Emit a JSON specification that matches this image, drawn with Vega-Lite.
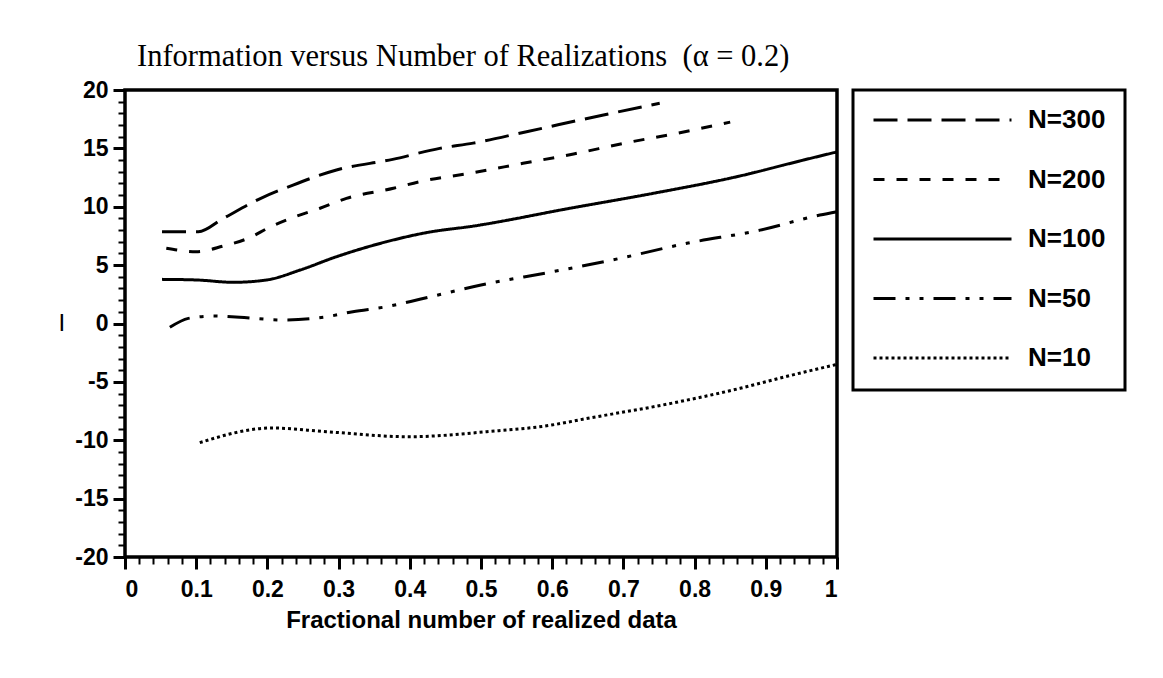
{
  "$schema": "https://vega.github.io/schema/vega-lite/v6.json",
  "autosize": {"type": "none"},
  "width": 712,
  "height": 467,
  "padding": {"left": 125, "top": 90, "right": 326, "bottom": 121},
  "background": "white",
  "title": {
    "text": "Information versus Number of Realizations \u00a0(α = 0.2)",
    "anchor": "start",
    "frame": "group",
    "dx": 12,
    "offset": -17,
    "baseline": "alphabetic",
    "font": "Liberation Serif",
    "fontSize": 30.5,
    "fontWeight": "normal",
    "color": "black"
  },
  "data": {
    "values": [
      {"N": "N=300", "x": 0.052, "y": 7.86},
      {"N": "N=300", "x": 0.103, "y": 7.86},
      {"N": "N=300", "x": 0.138, "y": 9.0},
      {"N": "N=300", "x": 0.19, "y": 10.7},
      {"N": "N=300", "x": 0.236, "y": 11.86},
      {"N": "N=300", "x": 0.297, "y": 13.15},
      {"N": "N=300", "x": 0.376, "y": 14.06},
      {"N": "N=300", "x": 0.442, "y": 15.0},
      {"N": "N=300", "x": 0.489, "y": 15.45},
      {"N": "N=300", "x": 0.564, "y": 16.43},
      {"N": "N=300", "x": 0.672, "y": 17.86},
      {"N": "N=300", "x": 0.751, "y": 18.86},
      {"N": "N=200", "x": 0.058, "y": 6.44},
      {"N": "N=200", "x": 0.1, "y": 6.15},
      {"N": "N=200", "x": 0.138, "y": 6.64},
      {"N": "N=200", "x": 0.173, "y": 7.3},
      {"N": "N=200", "x": 0.205, "y": 8.3},
      {"N": "N=200", "x": 0.239, "y": 9.15},
      {"N": "N=200", "x": 0.274, "y": 9.87},
      {"N": "N=200", "x": 0.311, "y": 10.72},
      {"N": "N=200", "x": 0.377, "y": 11.58},
      {"N": "N=200", "x": 0.414, "y": 12.15},
      {"N": "N=200", "x": 0.487, "y": 12.9},
      {"N": "N=200", "x": 0.559, "y": 13.72},
      {"N": "N=200", "x": 0.63, "y": 14.52},
      {"N": "N=200", "x": 0.7, "y": 15.43},
      {"N": "N=200", "x": 0.775, "y": 16.29},
      {"N": "N=200", "x": 0.85, "y": 17.25},
      {"N": "N=100", "x": 0.052, "y": 3.78},
      {"N": "N=100", "x": 0.1, "y": 3.73},
      {"N": "N=100", "x": 0.152, "y": 3.53},
      {"N": "N=100", "x": 0.199, "y": 3.73},
      {"N": "N=100", "x": 0.246, "y": 4.58},
      {"N": "N=100", "x": 0.297, "y": 5.72},
      {"N": "N=100", "x": 0.367, "y": 7.0},
      {"N": "N=100", "x": 0.423, "y": 7.78},
      {"N": "N=100", "x": 0.49, "y": 8.35},
      {"N": "N=100", "x": 0.625, "y": 9.87},
      {"N": "N=100", "x": 0.742, "y": 11.15},
      {"N": "N=100", "x": 0.859, "y": 12.57},
      {"N": "N=100", "x": 0.953, "y": 14.0},
      {"N": "N=100", "x": 1.0, "y": 14.7},
      {"N": "N=50", "x": 0.063, "y": -0.33},
      {"N": "N=50", "x": 0.089, "y": 0.44},
      {"N": "N=50", "x": 0.124, "y": 0.64},
      {"N": "N=50", "x": 0.161, "y": 0.53},
      {"N": "N=50", "x": 0.222, "y": 0.3},
      {"N": "N=50", "x": 0.283, "y": 0.58},
      {"N": "N=50", "x": 0.32, "y": 1.01},
      {"N": "N=50", "x": 0.367, "y": 1.44},
      {"N": "N=50", "x": 0.414, "y": 2.07},
      {"N": "N=50", "x": 0.5, "y": 3.3},
      {"N": "N=50", "x": 0.601, "y": 4.44},
      {"N": "N=50", "x": 0.695, "y": 5.58},
      {"N": "N=50", "x": 0.789, "y": 6.87},
      {"N": "N=50", "x": 0.892, "y": 8.0},
      {"N": "N=50", "x": 0.976, "y": 9.29},
      {"N": "N=50", "x": 1.0, "y": 9.58},
      {"N": "N=10", "x": 0.105, "y": -10.2},
      {"N": "N=10", "x": 0.206, "y": -8.95},
      {"N": "N=10", "x": 0.283, "y": -9.27},
      {"N": "N=10", "x": 0.399, "y": -9.7},
      {"N": "N=10", "x": 0.508, "y": -9.27},
      {"N": "N=10", "x": 0.599, "y": -8.7},
      {"N": "N=10", "x": 0.643, "y": -8.2},
      {"N": "N=10", "x": 0.767, "y": -6.84},
      {"N": "N=10", "x": 0.864, "y": -5.55},
      {"N": "N=10", "x": 0.928, "y": -4.55},
      {"N": "N=10", "x": 1.0, "y": -3.5}
    ]
  },
  "mark": {"type": "line", "color": "black", "strokeWidth": 3, "interpolate": "monotone"},
  "encoding": {
    "x": {
      "field": "x",
      "type": "quantitative",
      "scale": {"domain": [0, 1], "nice": false, "zero": false},
      "axis": {
        "title": "Fractional number of realized data",
        "values": [0,0.02,0.04,0.06,0.08,0.1,0.12,0.14,0.16,0.18,0.2,0.22,0.24,0.26,0.28,0.3,0.32,0.34,0.36,0.38,0.4,0.42,0.44,0.46,0.48,0.5,0.52,0.54,0.56,0.58,0.6,0.62,0.64,0.66,0.68,0.7,0.72,0.74,0.76,0.78,0.8,0.82,0.84,0.86,0.88,0.9,0.92,0.94,0.96,0.98,1],
        "labelExpr": "abs(datum.value*10 - round(datum.value*10)) < 0.001 ? format(datum.value, '~g') : ''",
        "tickSize": {"condition": {"test": "abs(datum.value*10 - round(datum.value*10)) < 0.001", "value": 12}, "value": 7},
        "tickWidth": {"condition": {"test": "abs(datum.value*10 - round(datum.value*10)) < 0.001", "value": 3}, "value": 2}
      }
    },
    "y": {
      "field": "y",
      "type": "quantitative",
      "scale": {"domain": [-20, 20], "nice": false, "zero": false},
      "axis": {
        "title": "I",
        "titleAngle": 0,
        "titleBaseline": "middle",
        "titleAlign": "right",
        "titlePadding": 10,
        "titleFontWeight": "normal",
        "values": [-20,-19,-18,-17,-16,-15,-14,-13,-12,-11,-10,-9,-8,-7,-6,-5,-4,-3,-2,-1,0,1,2,3,4,5,6,7,8,9,10,11,12,13,14,15,16,17,18,19,20],
        "labelExpr": "datum.value % 5 == 0 ? '' + datum.value : ''",
        "tickSize": {"condition": {"test": "datum.value % 5 == 0", "value": 12}, "value": 7},
        "tickWidth": {"condition": {"test": "datum.value % 5 == 0", "value": 3}, "value": 2}
      }
    },
    "strokeDash": {
      "field": "N",
      "type": "nominal",
      "scale": {
        "domain": ["N=300", "N=200", "N=100", "N=50", "N=10"],
        "range": [[24, 10], [11, 12], [1, 0], [22, 10, 4, 10, 4, 10], [3, 3]]
      },
      "legend": {
        "title": null,
        "orient": "right",
        "offset": 10,
        "symbolType": "stroke",
        "symbolSize": 19044,
        "symbolStrokeWidth": 3,
        "symbolStrokeColor": "black",
        "labelFont": "Liberation Sans",
        "labelFontSize": 26,
        "labelFontWeight": "bold",
        "labelColor": "black",
        "labelOffset": 15,
        "padding": 19,
        "clipHeight": 22,
        "rowPadding": 33.5,
        "strokeColor": "black",
        "encode": {"legend": {"update": {"strokeWidth": {"value": 3}}}}
      }
    }
  },
  "config": {
    "view": {"stroke": "black", "strokeWidth": 3.5},
    "axis": {
      "grid": false,
      "domain": false,
      "labelOverlap": false,
      "labelFont": "Liberation Sans",
      "labelFontSize": 23,
      "labelFontWeight": "bold",
      "labelColor": "black",
      "tickColor": "black",
      "titleFont": "Liberation Sans",
      "titleFontSize": 24,
      "titleColor": "black"
    },
    "axisX": {"labelPadding": 9, "titlePadding": 7, "titleFontWeight": "bold"},
    "axisY": {"labelPadding": 5}
  }
}
